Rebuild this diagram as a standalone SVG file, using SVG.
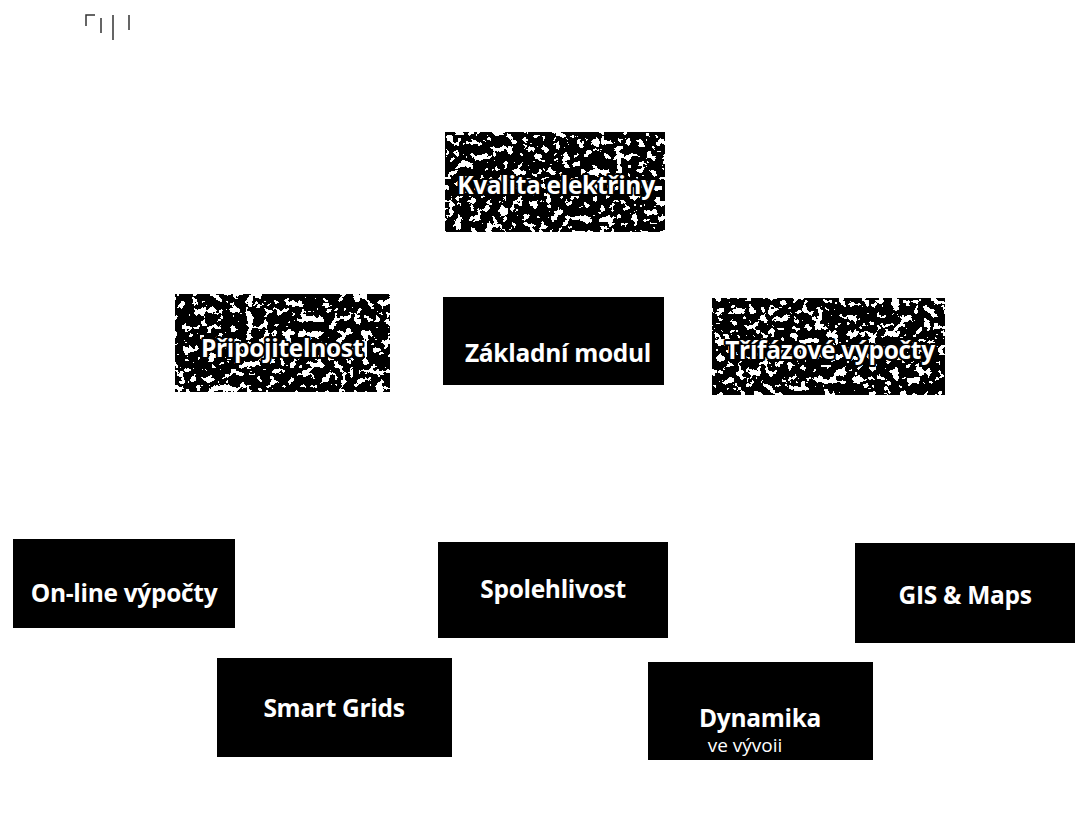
<svg xmlns="http://www.w3.org/2000/svg" width="1081" height="839" viewBox="0 0 1081 839">
<defs>
<filter id="speckle" x="0" y="0" width="1" height="1" color-interpolation-filters="sRGB">
<feTurbulence type="fractalNoise" baseFrequency="0.13" numOctaves="3" seed="11" result="n"/>
<feColorMatrix in="n" type="matrix" values="0 0 0 0 0  0 0 0 0 0  0 0 0 0 0  1.3 0 0 0 -0.1" result="a"/>
<feComponentTransfer in="a" result="t"><feFuncA type="discrete" tableValues="1 1 1 1 0 0"/></feComponentTransfer>
<feFlood flood-color="#000"/>
<feComposite in2="t" operator="in" result="blk"/>
<feFlood flood-color="#fff" result="wht"/>
<feComposite in="blk" in2="wht" operator="over" result="mix"/>
<feComposite in="mix" in2="SourceGraphic" operator="in"/>
</filter>
<style>
.box{fill:#000}
.tex{fill:#000;filter:url(#speckle)}
.t{font-family:"Open Sans","Noto Sans",sans-serif;font-weight:700;fill:#fff;text-anchor:middle;font-size:24.5px;letter-spacing:-0.3px}
.ts{font-family:"Open Sans","Noto Sans",sans-serif;font-weight:400;fill:#fff;text-anchor:middle;font-size:19px}
.to{stroke:#000;stroke-width:4px;paint-order:stroke;stroke-linejoin:round}
.art{stroke:#333;stroke-width:1.5;fill:none}
</style>
</defs>
<rect width="1081" height="839" fill="#fff"/>
<g id="artifact">
<path class="art" d="M86 26 V15 H95 M101 18 V33 M113 15 V40 M129 15 V30"/>
</g>
<g id="connectors"></g>
<g id="n-kvalita">
<rect class="tex" x="445" y="132" width="220" height="100"/>
<text class="t to" x="556" y="194">Kvalita elektřiny</text>
</g>
<g id="n-pripojitelnost">
<rect class="tex" x="175" y="294" width="215" height="98"/>
<text class="t to" x="282" y="357">Připojitelnost</text>
</g>
<g id="n-zakladni">
<rect class="box" x="443" y="297" width="221" height="88"/>
<text class="t" x="558" y="362">Základní modul</text>
</g>
<g id="n-trifazove">
<rect class="tex" x="712" y="298" width="233" height="97"/>
<text class="t to" x="830" y="359">Třífázové výpočty</text>
</g>
<g id="n-online">
<rect class="box" x="13" y="539" width="222" height="89"/>
<text class="t" x="124" y="602">On-line výpočty</text>
</g>
<g id="n-spolehlivost">
<rect class="box" x="438" y="542" width="230" height="96"/>
<text class="t" x="553" y="598">Spolehlivost</text>
</g>
<g id="n-gis">
<rect class="box" x="855" y="543" width="220" height="100"/>
<text class="t" x="965" y="604">GIS &amp; Maps</text>
</g>
<g id="n-smartgrids">
<rect class="box" x="217" y="658" width="235" height="99"/>
<text class="t" x="334" y="717">Smart Grids</text>
</g>
<g id="n-dynamika">
<rect class="box" x="648" y="662" width="225" height="98"/>
<text class="t" x="760" y="727">Dynamika</text>
<text class="ts" x="745" y="752">ve vývoii</text>
</g>
</svg>
